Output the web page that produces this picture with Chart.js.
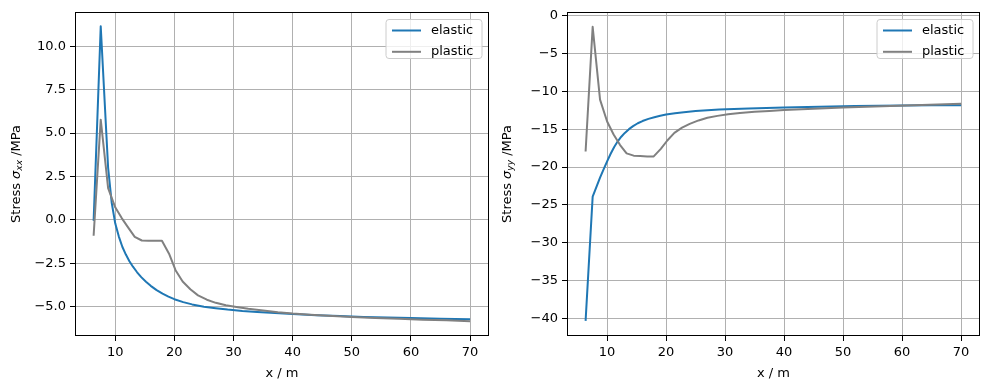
<!DOCTYPE html>
<html>
<head>
<meta charset="utf-8">
<script src="https://cdn.jsdelivr.net/npm/chart.js@4.4.1/dist/chart.umd.min.js"></script>
<style>
  html, body { margin: 0; padding: 0; background: #fff; }
  #wrap { position: relative; width: 989px; height: 389px; }
  .panel { position: absolute; top: 0; height: 389px; }
</style>
</head>
<body>
<div id="wrap">
  <div class="panel" style="left:0;width:494px"><canvas id="sxx"></canvas></div>
  <div class="panel" style="left:494px;width:495px"><canvas id="syy"></canvas></div>
</div>
<script>
// distance from the opening (m), elastic solution is sampled finer
const xsElastic = [6.35, 7.55, 8.8, 9.4, 10, 10.6, 11.2, 11.8, 12.4, 13, 13.7, 14.4, 15.2, 16, 17,
  18, 19, 20, 21.5, 23, 25, 27, 29, 31.5, 34, 37, 40, 44, 48, 52, 56, 60, 65, 70];
const xsPlastic = [6.35, 7.55, 8.8, 10, 11.1, 12.2, 13.3, 14.5, 15.6, 16.8, 17.9, 19.1, 20.2, 21.4,
  22.7, 24, 25.5, 27, 28.7, 30.5, 32.5, 35, 37.5, 40, 43, 46, 50, 54, 58, 62, 66, 70];

// sigma_xx (MPa)
const elasticXX = [-0.06, 11.15, 3.0, 1.0, -0.2, -0.95, -1.55, -2.0, -2.38, -2.7, -3.02, -3.3,
  -3.57, -3.8, -4.05, -4.25, -4.42, -4.57, -4.74, -4.87, -5.0, -5.09, -5.17, -5.25, -5.31, -5.37,
  -5.43, -5.49, -5.54, -5.59, -5.63, -5.66, -5.69, -5.72];
const plasticXX = [-0.92, 5.77, 1.83, 0.72, 0.1, -0.45, -0.98, -1.19, -1.2, -1.2, -1.2, -1.95,
  -2.9, -3.55, -4.0, -4.35, -4.6, -4.78, -4.92, -5.02, -5.12, -5.22, -5.32, -5.4, -5.47,
  -5.53, -5.6, -5.65, -5.7, -5.75, -5.79, -5.84];

// sigma_yy (MPa)
const elasticYY = [-40.3, -23.9, -21.4, -20.3, -19.25, -18.25, -17.35, -16.6, -16.0, -15.5, -15.0,
  -14.6, -14.22, -13.93, -13.65, -13.42, -13.23, -13.07, -12.9, -12.76, -12.62, -12.51, -12.42,
  -12.34, -12.27, -12.2, -12.14, -12.07, -12.01, -11.96, -11.92, -11.89, -11.86, -11.84];
const plasticYY = [-17.95, -1.5, -11.1, -14.0, -15.7, -17.1, -18.2, -18.5, -18.55, -18.6, -18.6,
  -17.6, -16.5, -15.5, -14.8, -14.3, -13.85, -13.5, -13.25, -13.02, -12.87, -12.72, -12.6,
  -12.48, -12.38, -12.26, -12.14, -12.04, -11.95, -11.86, -11.76, -11.66];

const xTicks = [10, 20, 30, 40, 50, 60, 70];
const xxTicks = [-5, -2.5, 0, 2.5, 5, 7.5, 10];
const yyTicks = [-40, -35, -30, -25, -20, -15, -10, -5, 0];

const FONT = 'DejaVu Sans';
const fmt = (v, d) => (v < 0 ? '\u2212' : '') + Math.abs(v).toFixed(d);
const pts = (xs, ys) => xs.map((x, i) => ({ x: x, y: ys[i] }));

// spines, legend box and the y label with subscript (drawn as text)
function decorations(sub, titleX) {
  return {
    id: 'decorations',
    afterDatasetsDraw(chart) {
      const ctx = chart.ctx, a = chart.chartArea;
      ctx.save();
      ctx.strokeStyle = '#000';
      ctx.lineWidth = 1;
      ctx.strokeRect(Math.round(a.left) + 0.5, Math.round(a.top) + 0.5,
        Math.round(a.right - a.left) - 1, Math.round(a.bottom - a.top) - 1);

      // legend
      const w = 96, h = 39, bx = a.right - 7 - w, by = a.top + 7.5;
      ctx.beginPath();
      ctx.roundRect(bx, by, w, h, 3);
      ctx.fillStyle = 'rgba(255,255,255,0.8)';
      ctx.fill();
      ctx.strokeStyle = '#cccccc';
      ctx.stroke();
      chart.data.datasets.forEach((ds, i) => {
        const y = by + 11 + i * 21.3;
        ctx.beginPath();
        ctx.moveTo(bx + 6, y);
        ctx.lineTo(bx + 35, y);
        ctx.strokeStyle = ds.borderColor;
        ctx.lineWidth = 2;
        ctx.stroke();
        ctx.fillStyle = '#000';
        ctx.font = '13px ' + FONT;
        ctx.textBaseline = 'middle';
        ctx.textAlign = 'left';
        ctx.fillText(ds.label, bx + 45, y);
      });

      // y axis title
      const parts = [
        { t: 'Stress ', f: '13px ' + FONT, dy: 0 },
        { t: '\u03c3', f: 'italic 13px ' + FONT, dy: 0 },
        { t: sub, f: 'italic 9px ' + FONT, dy: 3 },
        { t: ' /MPa', f: '13px ' + FONT, dy: 0 }
      ];
      let total = 0;
      parts.forEach(p => { ctx.font = p.f; p.w = ctx.measureText(p.t).width; total += p.w; });
      ctx.translate(titleX, (a.top + a.bottom) / 2);
      ctx.rotate(-Math.PI / 2);
      ctx.fillStyle = '#000';
      ctx.textBaseline = 'middle';
      let px = -total / 2;
      parts.forEach(p => { ctx.font = p.f; ctx.fillText(p.t, px, p.dy); px += p.w; });
      ctx.restore();
    }
  };
}

function makeChart(id, elastic, plastic, yMin, yMax, yTickList, dec, yWidth, padRight, sub, titleX) {
  new Chart(document.getElementById(id), {
    type: 'line',
    data: {
      datasets: [
        { label: 'elastic', data: pts(xsElastic, elastic), borderColor: '#1f77b4', order: 2 },
        { label: 'plastic', data: pts(xsPlastic, plastic), borderColor: '#808080', order: 1 }
      ]
    },
    options: {
      responsive: true,
      maintainAspectRatio: false,
      animation: false,
      layout: { padding: { top: 12, right: padRight, left: 0, bottom: 0 } },
      elements: {
        line: { borderWidth: 2, tension: 0, borderJoinStyle: 'round', fill: false },
        point: { radius: 0, hoverRadius: 0 }
      },
      plugins: { legend: { display: false }, tooltip: { enabled: false } },
      scales: {
        x: {
          type: 'linear', min: 3.2, max: 73.2,
          afterBuildTicks: s => { s.ticks = xTicks.map(v => ({ value: v })); },
          afterFit: s => { s.height = 53; },
          grid: { color: '#b0b0b0', lineWidth: 1, tickColor: '#000', tickLength: 5 },
          border: { display: false },
          ticks: { color: '#000', font: { family: FONT, size: 13 }, padding: 4, maxRotation: 0,
            callback: v => String(v) },
          title: { display: true, text: 'x / m', color: '#000', font: { family: FONT, size: 13 },
            padding: { top: 4, bottom: 8 } }
        },
        y: {
          type: 'linear', min: yMin, max: yMax,
          afterBuildTicks: s => { s.ticks = yTickList.map(v => ({ value: v })); },
          afterFit: s => { s.width = yWidth; },
          grid: { color: '#b0b0b0', lineWidth: 1, tickColor: '#000', tickLength: 5 },
          border: { display: false },
          ticks: { color: '#000', font: { family: FONT, size: 13 }, padding: 4,
            callback: v => fmt(v, dec) }
        }
      }
    },
    plugins: [decorations(sub, titleX)]
  });
}

makeChart('sxx', elasticXX, plasticXX, -6.69, 11.97, xxTicks, 1, 75, 5, 'xx', 17);
makeChart('syy', elasticYY, plasticYY, -42.3, 0.46, yyTicks, 0, 73, 9, 'yy', 14);
</script>
</body>
</html>
